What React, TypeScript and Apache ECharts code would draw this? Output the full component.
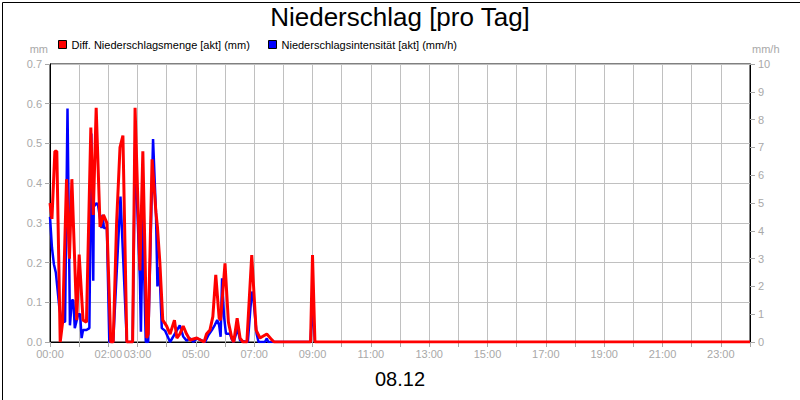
import React, { useEffect, useRef } from "react";
import * as echarts from "echarts";

const titleText = "Niederschlag [pro Tag]";
const dateText = "08.12";
const redName = "Diff. Niederschlagsmenge [akt] (mm)";
const blueName = "Niederschlagsintensität [akt] (mm/h)";
const xTickLabels = ["00:00", "02:00", "03:00", "05:00", "07:00", "09:00", "11:00", "13:00", "15:00", "17:00", "19:00", "21:00", "23:00"];

// Diff. Niederschlagsmenge (mm), left axis
const redTimes = [
  "00:00", "00:04", "00:10", "00:14", "00:21", "00:26", "00:34", "00:40", "00:45", "00:55",
  "01:00", "01:08", "01:15", "01:24", "01:29", "01:35", "01:43", "01:50", "01:57", "02:05",
  "02:10", "02:17", "02:24", "02:30", "02:38", "02:50", "02:55", "03:05", "03:11", "03:19",
  "03:22", "03:30", "03:38", "03:41", "03:46", "03:52", "04:00", "04:07", "04:16", "04:21",
  "04:27", "04:34", "04:41", "04:48", "05:02", "05:17", "05:22", "05:29", "05:35", "05:41",
  "05:48", "05:51", "06:00", "06:07", "06:14", "06:18", "06:25", "06:31", "06:37", "06:45",
  "06:55", "07:04", "07:12", "07:26", "07:36", "07:41", "08:56", "09:00", "09:05", "24:00",
];
const redValues = [
  0.35, 0.31, 0.48, 0.48, 0.0, 0.05, 0.41, 0.21, 0.41, 0.055,
  0.22, 0.055, 0.05, 0.54, 0.32, 0.59, 0.29, 0.32, 0.3, 0.0,
  0.0, 0.3, 0.49, 0.52, 0.0, 0.0, 0.59, 0.18, 0.48, 0.01,
  0.02, 0.46, 0.325, 0.29, 0.2, 0.055, 0.04, 0.02, 0.055, 0.01,
  0.02, 0.04, 0.02, 0.005, 0.01, 0.0, 0.02, 0.03, 0.064, 0.169,
  0.06, 0.055, 0.198, 0.05, 0.01, 0.0, 0.06, 0.01, 0.0, 0.0,
  0.219, 0.03, 0.01, 0.02, 0.006, 0.0, 0.0, 0.219, 0.0, 0.0,
];

// Niederschlagsintensität (mm/h), right axis
const blueTimes = [
  "00:00", "00:04", "00:08", "00:12", "00:19", "00:24", "00:31", "00:36", "00:41", "00:45",
  "00:48", "00:51", "00:58", "01:02", "01:05", "01:08", "01:15", "01:21", "01:25", "01:29",
  "01:30", "01:36", "01:39", "01:46", "01:48", "01:51", "01:57", "02:02", "02:10", "02:25",
  "02:38", "02:50", "02:55", "03:05", "03:07", "03:11", "03:17", "03:22", "03:32", "03:38",
  "03:41", "03:45", "03:50", "03:57", "04:07", "04:27", "04:34", "04:41", "04:48", "04:55",
  "05:02", "05:19", "05:26", "05:33", "05:39", "05:44", "05:48", "05:51", "05:54", "05:58",
  "06:02", "06:10", "06:14", "06:18", "06:26", "06:31", "06:47", "06:55", "06:58", "07:05",
  "07:09", "07:22", "07:26", "07:29", "08:56", "09:00", "09:05",
];
const blueValues = [
  4.5, 3.4, 2.8, 2.5, 1.27, 0.73, 0.73, 8.4, 0.6, 1.5,
  1.5, 0.5, 1.0, 1.0, 0.14, 0.43, 0.43, 0.5, 7.5, 2.2,
  4.87, 5.0, 4.9, 4.1, 4.57, 4.1, 4.1, 0.0, 0.0, 5.23,
  0.0, 0.0, 7.0, 2.23, 0.37, 4.5, 0.0, 0.0, 7.3, 4.64,
  2.0, 2.7, 0.5, 0.4, 0.0, 0.6, 0.2, 0.05, 0.13, 0.0,
  0.13, 0.0, 0.25, 0.43, 0.61, 0.79, 0.6, 0.19, 2.29, 0.91,
  0.3, 0.3, 0.1, 0.0, 0.49, 0.05, 0.0, 1.81, 1.63, 0.3,
  0.0, 0.0, 0.13, 0.0, 0.0, 1.41, 0.0,
];

const toMin = (s: string) => {
  const [h, m] = s.split(":").map(Number);
  return h * 60 + m;
};
const pad = (n: number) => (n < 10 ? "0" + n : "" + n);

const FONT = "'Liberation Sans', Arial, sans-serif";
const GRAY = "#a8a8a8";

export default function App() {
  const ref = useRef<HTMLDivElement>(null);
  useEffect(() => {
    document.body.style.margin = "0";
    if (!ref.current) return;
    const chart = echarts.init(ref.current, null, { renderer: "svg" });
    const redData = redTimes.map((t, i) => [toMin(t), redValues[i]]);
    const blueData = blueTimes.map((t, i) => [toMin(t), blueValues[i]]);
    const legendBase = {
      top: 39,
      padding: 0,
      icon: "rect",
      itemWidth: 8,
      itemHeight: 8,
      itemStyle: { borderColor: "#000", borderWidth: 1 },
      textStyle: { fontSize: 11, color: "#000", fontFamily: FONT },
    };
    chart.setOption({
      animation: false,
      backgroundColor: "#fff",
      textStyle: { fontFamily: FONT },
      title: [
        {
          text: titleText,
          left: "center",
          top: 4,
          padding: 0,
          textStyle: { fontSize: 26, fontWeight: "normal", color: "#000", fontFamily: FONT },
        },
        {
          text: dateText,
          left: "center",
          top: 369,
          padding: 0,
          textStyle: { fontSize: 20, fontWeight: "normal", color: "#000", fontFamily: FONT },
        },
      ],
      legend: [
        { ...legendBase, data: [redName], left: 58 },
        { ...legendBase, data: [blueName], left: 268 },
      ],
      grid: {
        left: 50,
        right: 50,
        top: 64,
        bottom: 58,
        show: true,
        borderColor: "#000",
        borderWidth: 1,
        backgroundColor: "#fff",
      },
      xAxis: {
        type: "value",
        min: 0,
        max: 1440,
        interval: 60,
        axisLine: { show: true, lineStyle: { color: "#000", width: 1 } },
        axisTick: { show: true, length: 5, lineStyle: { color: GRAY } },
        axisLabel: {
          color: GRAY,
          fontSize: 11,
          margin: 6,
          fontFamily: FONT,
          formatter: (v: number) => {
            const lbl = pad(Math.floor(v / 60)) + ":00";
            return v % 60 === 0 && xTickLabels.includes(lbl) ? lbl : "";
          },
        },
        splitLine: { show: true, lineStyle: { color: "#c0c0c0", width: 1 } },
      },
      yAxis: [
        {
          type: "value",
          min: 0,
          max: 0.7,
          interval: 0.1,
          name: "mm",
          nameLocation: "end",
          nameGap: 10,
          nameTextStyle: { color: GRAY, fontSize: 11, align: "right", padding: [0, 2, 0, 0], fontFamily: FONT },
          axisLine: { show: true, lineStyle: { color: "#000", width: 1 } },
          axisTick: { show: true, length: 5, lineStyle: { color: GRAY } },
          axisLabel: { color: GRAY, fontSize: 11, margin: 8, fontFamily: FONT, formatter: (v: number) => v.toFixed(1) },
          splitLine: { show: true, lineStyle: { color: "#c0c0c0", width: 1 } },
        },
        {
          type: "value",
          min: 0,
          max: 10,
          interval: 1,
          name: "mm/h",
          nameLocation: "end",
          nameGap: 10,
          nameTextStyle: { color: GRAY, fontSize: 11, align: "left", padding: [0, 0, 0, 2], fontFamily: FONT },
          axisLine: { show: true, lineStyle: { color: "#000", width: 1 } },
          axisTick: { show: true, length: 5, lineStyle: { color: GRAY } },
          axisLabel: { color: GRAY, fontSize: 11, margin: 8, fontFamily: FONT },
          splitLine: { show: false },
        },
      ],
      series: [
        {
          name: blueName,
          type: "line",
          yAxisIndex: 1,
          data: blueData,
          showSymbol: false,
          color: "#0000ff",
          lineStyle: { color: "#0000ff", width: 2.5 },
          z: 2,
        },
        {
          name: redName,
          type: "line",
          yAxisIndex: 0,
          data: redData,
          showSymbol: false,
          color: "#ff0000",
          lineStyle: { color: "#ff0000", width: 3 },
          z: 3,
        },
      ],
      graphic: [
        {
          type: "rect",
          left: 0,
          top: 0,
          z: 100,
          silent: true,
          shape: { x: 0.5, y: 0.5, width: 799, height: 399 },
          style: { fill: "none", stroke: "#000", lineWidth: 1 },
        },
      ],
    });
    return () => chart.dispose();
  }, []);
  return <div ref={ref} style={{ width: 800, height: 400 }} />;
}
